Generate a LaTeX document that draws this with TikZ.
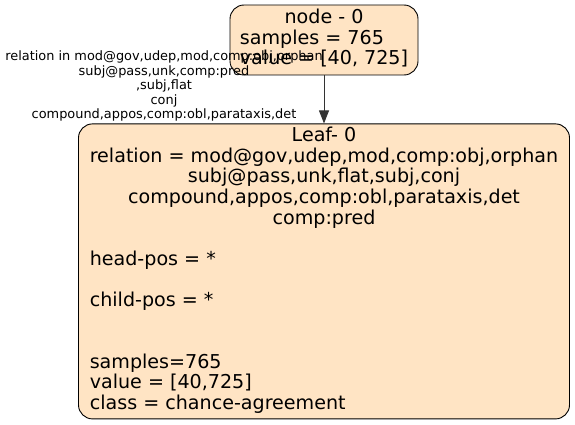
\documentclass[tikz,border=0pt]{standalone}
\usepackage{fontspec}
\setmainfont{DejaVu Sans}
\usetikzlibrary{positioning,arrows.meta}
\definecolor{bisque}{HTML}{FFE4C4}
\newcommand{\centrow}[1]{\multicolumn{1}{@{}c@{}}{#1}}

\begin{document}
\begin{tikzpicture}[x=1pt,y=1pt,
		treenode/.style={draw=black,fill=bisque,rounded corners=14pt,line width=0.9pt,inner sep=0pt,font=\fontsize{19.1}{20.5}\selectfont},
		leafnode/.style={treenode,minimum width=491pt,minimum height=295pt},
		edgelabel/.style={font=\fontsize{12.9}{14.5}\selectfont,align=center,inner sep=0pt}]
		\useasboundingbox (0,0) rectangle (575,-425);
		
		\node[treenode,minimum width=188pt,minimum height=70pt] (n0) at (324,-40) {\begin{tabular}{@{}l@{}}\centrow{node - 0\hspace{7pt}}\\samples = 765\\value = [40, 725]\end{tabular}};
		
		\node[leafnode,below=48pt of n0] (leaf0) {\begin{tabular}{@{}l@{}}
				\centrow{Leaf- 0}\\
				\centrow{relation = mod@gov,udep,mod,comp:obj,orphan}\\
				\centrow{subj@pass,unk,flat,subj,conj}\\
				\centrow{compound,appos,comp:obl,parataxis,det}\\
				\centrow{comp:pred}\\
				\\
				head-pos = *\\
				\\
				child-pos = *\\
				\\
				\\
				samples=765\\
				value = [40,725]\\
				class = chance-agreement
			\end{tabular}};
		
		\draw[-{Triangle[length=13pt,width=10pt]},line width=0.9pt,draw=black!80,fill=black] (n0.south)--(leaf0.north);
		
		\node[edgelabel] (lbl0) at (164,-86) {relation in mod@gov,udep,mod,comp:obj,orphan\\subj@pass,unk,comp:pred\\,subj,flat\\conj\\compound,appos,comp:obl,parataxis,det};
	\end{tikzpicture}
\end{document}
